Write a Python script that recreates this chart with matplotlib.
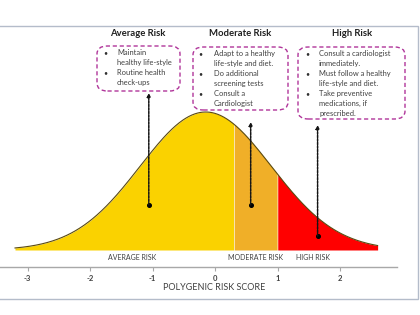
import numpy as np
import matplotlib
matplotlib.use("Agg")
import matplotlib.pyplot as plt
from matplotlib.patches import FancyBboxPatch, Rectangle

plt.rcParams['font.family'] = ['Lato', 'DejaVu Sans']

# curve: normal distribution of the risk score
mu, sigma = -0.15, 1.05
x_start, x_end = -3.2, 2.6
moderate_cut, high_cut = 0.3, 1.0
peak_height = 138  # in pixel-like y units

# tick labels
ticks = [-3, -2, -1, 0, 1, 2]

# zone labels under the curve
zone_names = ["AVERAGE RISK", "MODERATE RISK", "HIGH RISK"]
zone_x = [-1.33, 0.64, 1.57]

# arrow positions (x score, dot height, arrow top)
arrow_x = [-1.06, 0.57, 1.64]
arrow_bottom = [45, 45, 14]
arrow_top = [157, 128, 125]

# boxes
titles = ["Average Risk", "Moderate Risk", "High Risk"]
bullets = [
    [["Maintain", "healthy life-style"], ["Routine health", "check-ups"]],
    [["Adapt to a healthy", "life-style and diet."], ["Do additional", "screening tests"],
     ["Consult a", "Cardiologist"]],
    [["Consult a cardiologist", "immediately."], ["Must follow a healthy", "life-style and diet."],
     ["Take preventive", "medications, if", "prescribed."]],
]

W, H = 420, 315
fig = plt.figure(figsize=(W / 100, H / 100), dpi=100)


def fx(px):
    return px / W


def fy(py):
    return 1 - py / H


ax = fig.add_axes([0, fy(267), 397 / W, 241 / H])
ax.set_xlim(-3.44, 2.91)
ax.set_ylim(-17, 224)

x = np.linspace(x_start, x_end, 600)
y = peak_height * np.exp(-0.5 * ((x - mu) / sigma) ** 2)

ax.fill_between(x, 0, y, where=x <= moderate_cut + 1e-9, color='#FAD200', lw=0)
ax.fill_between(x, 0, y, where=(x >= moderate_cut) & (x <= high_cut + 1e-9), color='#F0AF28', lw=0)
ax.fill_between(x, 0, y, where=x >= high_cut, color='#FF0000', lw=0)
ax.plot(x, y, color='#5A4A10', lw=0.8)

for xa, yb, yt in zip(arrow_x, arrow_bottom, arrow_top):
    ax.annotate("", xy=(xa, yt), xytext=(xa, yb),
                arrowprops=dict(arrowstyle='-|>', color='#151515', lw=1.1, ls=(0, (1.5, 0.8)),
                                mutation_scale=5, shrinkA=0, shrinkB=0))
    ax.plot(xa, yb, 'o', color='black', ms=2.6)

for name, xz in zip(zone_names, zone_x):
    ax.text(xz, -8, name, ha='center', va='center', fontsize=5, color='#404040')

for s in ['top', 'right', 'left']:
    ax.spines[s].set_visible(False)
ax.spines['bottom'].set_color('#A8A8A8')
ax.spines['bottom'].set_linewidth(1.0)
ax.set_yticks([])
ax.set_xticks(ticks)
ax.set_xticklabels([str(t) for t in ticks])
ax.tick_params(axis='x', length=3, color='#A8A8A8', labelsize=5.5, pad=2.5, labelcolor='#404040')
for lab in ax.get_xticklabels():
    lab.set_fontweight('bold')

fig.text(fx(214), fy(288), "POLYGENIC RISK SCORE", ha='center', va='center',
         fontsize=6.5, color='#404040')

# frame around the graphic
fig.patches.append(Rectangle((fx(-2), fy(299)), fx(420), (299 - 26) / H,
                             transform=fig.transFigure, fill=False,
                             ec='#B4BCCA', lw=1.0))

# boxes with recommendations
box_rects = [(97, 46, 180, 91), (193, 47, 288, 110), (298, 47, 405, 119)]
title_x = [138, 240, 352]
bullet_x = [105, 200, 307]
text_x = [117, 214, 319]
for title, items, (x0, y0, x1, y1), tx, bx, txx in zip(titles, bullets, box_rects,
                                                         title_x, bullet_x, text_x):
    fig.text(fx(tx), fy(34), title, ha='center', va='center', fontsize=6.8,
             fontweight='bold', color='#202020')
    box = FancyBboxPatch((fx(x0), fy(y1)), fx(x1 - x0), (y1 - y0) / H,
                         boxstyle="round,pad=0,rounding_size=0.025",
                         transform=fig.transFigure, fill=False, ec='#B0359A',
                         lw=1.0, ls=(0, (3, 2)))
    fig.patches.append(box)
    yy = y0 + 6.5
    for item in items:
        fig.text(fx(bx), fy(yy), "\u2022", ha='center', va='center', fontsize=5, color='#303030')
        for line in item:
            fig.text(fx(txx), fy(yy), line, ha='left', va='center', fontsize=5.4, color='#404040')
            yy += 10

fig.savefig("out.png", dpi=100)
